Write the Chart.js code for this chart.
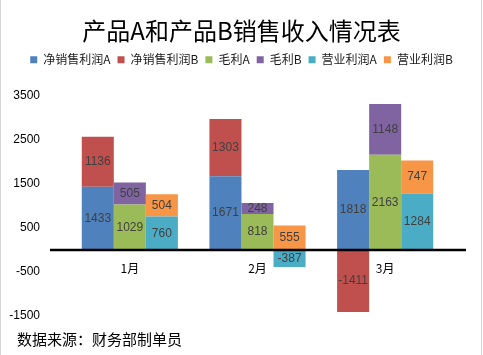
<!DOCTYPE html>
<html>
<head>
<meta charset="utf-8">
<script src="https://cdn.jsdelivr.net/npm/chart.js@4.4.1/dist/chart.umd.min.js"></script>
<style>
  html, body { margin: 0; padding: 0; background: #fff; }
  #wrap { position: relative; width: 483px; height: 355px; overflow: hidden; }
  #footer { position: absolute; left: 17px; top: 328px; font: 15px "Noto Sans CJK SC", sans-serif; color: #000; white-space: nowrap; }
  .edge { position: absolute; top: 0; width: 1px; height: 355px; background: #d4d4d4; }
</style>
</head>
<body>
<div id="wrap">
  <canvas id="c" width="483" height="355"></canvas>
  <div id="footer">数据来源：财务部制单员</div>
  <div class="edge" style="left:0"></div>
  <div class="edge" style="left:481px"></div>
</div>
<script>
const categories = ['1月', '2月', '3月'];
const seriesNames = ['净销售利润A', '净销售利润B', '毛利A', '毛利B', '营业利润A', '营业利润B'];
const netProfitA = [1433, 1671, 1818];
const netProfitB = [1136, 1303, -1411];
const grossA = [1029, 818, 2163];
const grossB = [505, 248, 1148];
const operatingA = [760, -387, 1284];
const operatingB = [504, 555, 747];
const yTicks = [-1500, -500, 500, 1500, 2500, 3500];

const colors = ['#4F81BD', '#C0504D', '#9BBB59', '#8064A2', '#4BACC6', '#F79646'];
const stacks = ['net', 'net', 'gross', 'gross', 'op', 'op'];
const values = [netProfitA, netProfitB, grossA, grossB, operatingA, operatingB];

const NUM_FONT = '"Liberation Sans", Arial, sans-serif';
const CJK_FONT = '"Noto Sans CJK SC", "Liberation Sans", sans-serif';

const datasets = seriesNames.map((name, i) => ({
  label: name,
  data: values[i],
  backgroundColor: colors[i],
  borderWidth: 0,
  stack: stacks[i],
  categoryPercentage: 0.753,
  barPercentage: 1.0
}));

const zeroLinePlugin = {
  id: 'zeroLine',
  afterDatasetsDraw(chart) {
    const {ctx, chartArea, scales} = chart;
    const y0 = scales.y.getPixelForValue(0);
    ctx.save();
    ctx.strokeStyle = '#000';
    ctx.lineWidth = 2.5;
    ctx.beginPath();
    ctx.moveTo(chartArea.left - 16, y0);
    ctx.lineTo(chartArea.right + 17, y0);
    ctx.stroke();
    ctx.restore();
  }
};

const barLabelPlugin = {
  id: 'barLabels',
  afterDatasetsDraw(chart) {
    const ctx = chart.ctx;
    ctx.save();
    ctx.font = '12px ' + NUM_FONT;
    ctx.fillStyle = '#404040';
    ctx.textAlign = 'center';
    ctx.textBaseline = 'middle';
    chart.data.datasets.forEach((ds, i) => {
      const meta = chart.getDatasetMeta(i);
      meta.data.forEach((bar, j) => {
        const p = bar.getProps(['x', 'y', 'base'], true);
        ctx.fillText(String(ds.data[j]), p.x, (p.y + p.base) / 2);
      });
    });
    ctx.restore();
  }
};

new Chart(document.getElementById('c'), {
  type: 'bar',
  data: { labels: categories, datasets },
  options: {
    responsive: false,
    animation: false,
    layout: { padding: { left: 0, right: 0, top: 0, bottom: 39 } },
    plugins: {
      title: {
        display: true,
        text: '产品A和产品B销售收入情况表',
        color: '#000',
        font: { family: CJK_FONT, size: 24, weight: 'normal' },
        padding: { top: 16, bottom: 2 }
      },
      legend: {
        display: true,
        position: 'top',
        labels: {
          boxWidth: 7,
          boxHeight: 7,
          padding: 7,
          color: '#1a1a1a',
          font: { family: CJK_FONT, size: 12 }
        }
      },
      tooltip: { enabled: false }
    },
    scales: {
      x: {
        position: { y: 0 },
        grid: { display: false, drawTicks: false },
        border: { display: false },
        ticks: { color: '#000', padding: 11, font: { family: CJK_FONT, size: 12 } }
      },
      xTop: {
        type: 'category',
        position: 'top',
        grid: { display: false, drawTicks: false },
        border: { display: false },
        ticks: { display: false },
        afterFit(scale) { scale.height = 20; }
      },
      yRight: {
        type: 'linear',
        position: 'right',
        grid: { display: false, drawTicks: false },
        border: { display: false },
        ticks: { display: false },
        afterFit(scale) { scale.width = 34; }
      },
      y: {
        min: yTicks[0],
        max: yTicks[yTicks.length - 1],
        grid: { display: false, drawTicks: false },
        border: { display: false },
        ticks: {
          stepSize: yTicks[1] - yTicks[0],
          color: '#000',
          padding: 26,
          font: { family: NUM_FONT, size: 12 },
          callback: (v) => String(v)
        },
        afterFit(scale) { scale.width = 66; }
      }
    }
  },
  plugins: [zeroLinePlugin, barLabelPlugin]
});
</script>
</body>
</html>
